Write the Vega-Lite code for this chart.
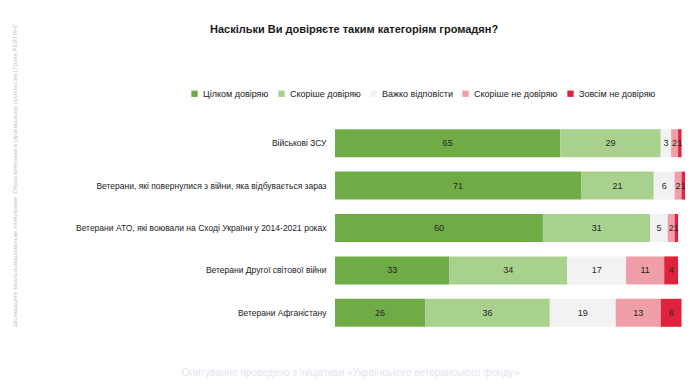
{
  "$schema": "https://vega.github.io/schema/vega-lite/v6.json",
  "width": 350,
  "height": 212,
  "autosize": {"type": "none"},
  "padding": {"left": 335, "top": 122, "right": 5, "bottom": 46},
  "background": "#ffffff",
  "config": {
    "view": {"stroke": null},
    "font": "Liberation Sans"
  },
  "title": {
    "text": "Наскільки Ви довіряєте таким категоріям громадян?",
    "frame": "group",
    "anchor": "start",
    "dx": -125,
    "offset": 0,
    "dy": 12,
    "fontSize": 11,
    "fontWeight": "bold",
    "color": "#1a1a1a"
  },
  "data": {
    "values": [
      {"cat": "Військові ЗСУ", "resp": "Цілком довіряю", "o": 1, "val": 65},
      {"cat": "Військові ЗСУ", "resp": "Скоріше довіряю", "o": 2, "val": 29},
      {"cat": "Військові ЗСУ", "resp": "Важко відповісти", "o": 3, "val": 3},
      {"cat": "Військові ЗСУ", "resp": "Скоріше не довіряю", "o": 4, "val": 2},
      {"cat": "Військові ЗСУ", "resp": "Зовсім не довіряю", "o": 5, "val": 1},
      {"cat": "Ветерани, які повернулися з війни, яка відбувається зараз", "resp": "Цілком довіряю", "o": 1, "val": 71},
      {"cat": "Ветерани, які повернулися з війни, яка відбувається зараз", "resp": "Скоріше довіряю", "o": 2, "val": 21},
      {"cat": "Ветерани, які повернулися з війни, яка відбувається зараз", "resp": "Важко відповісти", "o": 3, "val": 6},
      {"cat": "Ветерани, які повернулися з війни, яка відбувається зараз", "resp": "Скоріше не довіряю", "o": 4, "val": 2},
      {"cat": "Ветерани, які повернулися з війни, яка відбувається зараз", "resp": "Зовсім не довіряю", "o": 5, "val": 1},
      {"cat": "Ветерани АТО, які воювали на Сході України у 2014-2021 роках", "resp": "Цілком довіряю", "o": 1, "val": 60},
      {"cat": "Ветерани АТО, які воювали на Сході України у 2014-2021 роках", "resp": "Скоріше довіряю", "o": 2, "val": 31},
      {"cat": "Ветерани АТО, які воювали на Сході України у 2014-2021 роках", "resp": "Важко відповісти", "o": 3, "val": 5},
      {"cat": "Ветерани АТО, які воювали на Сході України у 2014-2021 роках", "resp": "Скоріше не довіряю", "o": 4, "val": 2},
      {"cat": "Ветерани АТО, які воювали на Сході України у 2014-2021 роках", "resp": "Зовсім не довіряю", "o": 5, "val": 1},
      {"cat": "Ветерани Другої світової війни", "resp": "Цілком довіряю", "o": 1, "val": 33},
      {"cat": "Ветерани Другої світової війни", "resp": "Скоріше довіряю", "o": 2, "val": 34},
      {"cat": "Ветерани Другої світової війни", "resp": "Важко відповісти", "o": 3, "val": 17},
      {"cat": "Ветерани Другої світової війни", "resp": "Скоріше не довіряю", "o": 4, "val": 11},
      {"cat": "Ветерани Другої світової війни", "resp": "Зовсім не довіряю", "o": 5, "val": 4},
      {"cat": "Ветерани Афганістану", "resp": "Цілком довіряю", "o": 1, "val": 26},
      {"cat": "Ветерани Афганістану", "resp": "Скоріше довіряю", "o": 2, "val": 36},
      {"cat": "Ветерани Афганістану", "resp": "Важко відповісти", "o": 3, "val": 19},
      {"cat": "Ветерани Афганістану", "resp": "Скоріше не довіряю", "o": 4, "val": 13},
      {"cat": "Ветерани Афганістану", "resp": "Зовсім не довіряю", "o": 5, "val": 6}
    ]
  },
  "transform": [
    {"stack": "val", "groupby": ["cat"], "sort": [{"field": "o", "order": "ascending"}], "as": ["s0", "s1"]},
    {"calculate": "(datum.s0 + datum.s1) / 2", "as": "mid"}
  ],
  "encoding": {
    "y": {
      "field": "cat",
      "type": "nominal",
      "sort": [
        "Військові ЗСУ",
        "Ветерани, які повернулися з війни, яка відбувається зараз",
        "Ветерани АТО, які воювали на Сході України у 2014-2021 роках",
        "Ветерани Другої світової війни",
        "Ветерани Афганістану"
      ],
      "scale": {"paddingInner": 0.34, "paddingOuter": 0.17},
      "axis": {
        "title": "Шістнадцяте загальнонаціональне опитування. Образ ветерана в українському суспільстві | Група РЕЙТИНГ",
        "titleFontSize": 6,
        "titleFontWeight": "normal",
        "titleColor": "#b7c2d8",
        "titleAngle": 270,
        "titleX": -318,
        "titleY": 53,
        "titleAlign": "center",
        "labelFontSize": 8.5,
        "labelColor": "#1a1a1a",
        "labelPadding": 9,
        "labelLimit": 300,
        "ticks": false,
        "domain": false
      }
    }
  },
  "layer": [
    {
      "mark": {"type": "bar"},
      "encoding": {
        "x": {
          "field": "s0",
          "type": "quantitative",
          "scale": {"domain": [0, 101], "nice": false},
          "axis": {
            "title": "Опитування проведено з ініціативи «Українського ветеранського фонду»",
            "titleFontSize": 10,
            "titleFontWeight": "normal",
            "titleColor": "#dfe5f0",
            "titleX": 15,
            "titleY": 33,
            "titleAlign": "center",
            "labels": false,
            "ticks": false,
            "domain": false,
            "grid": false
          }
        },
        "x2": {"field": "s1"},
        "color": {
          "field": "resp",
          "type": "nominal",
          "scale": {
            "domain": ["Цілком довіряю", "Скоріше довіряю", "Важко відповісти", "Скоріше не довіряю", "Зовсім не довіряю"],
            "range": ["#6fac45", "#a9d18e", "#f2f2f2", "#f09ea8", "#e0223d"]
          },
          "legend": {
            "title": null,
            "orient": "none",
            "direction": "horizontal",
            "legendX": -145,
            "legendY": -33,
            "symbolType": "square",
            "symbolSize": 40,
            "symbolStrokeWidth": 0,
            "labelFontSize": 9,
            "labelColor": "#1a1a1a",
            "labelOffset": 4,
            "columnPadding": 8
          }
        }
      }
    },
    {
      "mark": {"type": "text", "fontSize": 9, "color": "#262626"},
      "encoding": {
        "x": {"field": "mid", "type": "quantitative"},
        "text": {"field": "val", "type": "quantitative"}
      }
    }
  ]
}
